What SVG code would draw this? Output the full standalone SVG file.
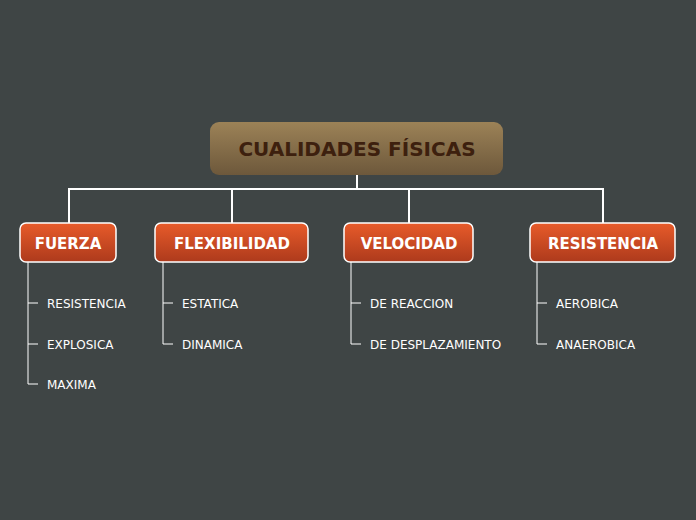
<svg xmlns="http://www.w3.org/2000/svg" width="696" height="520" viewBox="0 0 696 520">
<defs>
<linearGradient id="gr" x1="0" y1="0" x2="0" y2="1"><stop offset="0" stop-color="#9c8257"/><stop offset="1" stop-color="#6d583b"/></linearGradient>
<linearGradient id="go" x1="0" y1="0" x2="0" y2="1"><stop offset="0" stop-color="#e85b2a"/><stop offset="1" stop-color="#ad3a1c"/></linearGradient>
<style>
.c{fill:url(#go);stroke:#fff;stroke-width:1.5}
.ct{font-family:"DejaVu Sans",sans-serif;font-weight:bold;font-size:15px;fill:#fff;text-anchor:middle}
.l{font-family:"DejaVu Sans",sans-serif;font-size:12px;fill:#fff}
.ln{stroke:#fff;stroke-width:1;fill:none}
.cn{stroke:#fff;stroke-width:2;fill:none}
</style>
</defs>
<rect width="696" height="520" fill="#3f4545"/>
<g id="connectors">
<path class="cn" d="M357 175V189M69 223V189H603V223M232 189V223M409 189V223"/>
<path class="ln" d="M28 262V384H38M28 303H38M28 344H38M163 262V344H173M163 303H173M351 262V344H361M351 303H361M537 262V344H547M537 303H547"/>
</g>
<g id="root"><rect x="210" y="122" width="293" height="53" rx="9" fill="url(#gr)"/><text x="357" y="156" font-family="DejaVu Sans,sans-serif" font-weight="bold" font-size="20" fill="#3d200e" text-anchor="middle">CUALIDADES FÍSICAS</text></g>
<g id="fuerza"><rect class="c" x="20" y="223" width="96" height="39" rx="6"/><text class="ct" x="68" y="249">FUERZA</text></g>
<g id="flex"><rect class="c" x="155" y="223" width="153" height="39" rx="6"/><text class="ct" x="232" y="249">FLEXIBILIDAD</text></g>
<g id="vel"><rect class="c" x="344" y="223" width="129" height="39" rx="6"/><text class="ct" x="409" y="249">VELOCIDAD</text></g>
<g id="res"><rect class="c" x="530" y="223" width="145" height="39" rx="6"/><text class="ct" x="603" y="249">RESISTENCIA</text></g>
<g id="leaves">
<text class="l" x="47" y="308">RESISTENCIA</text><text class="l" x="47" y="349">EXPLOSICA</text><text class="l" x="47" y="389">MAXIMA</text>
<text class="l" x="182" y="308">ESTATICA</text><text class="l" x="182" y="349">DINAMICA</text>
<text class="l" x="370" y="308">DE REACCION</text><text class="l" x="370" y="349">DE DESPLAZAMIENTO</text>
<text class="l" x="556" y="308">AEROBICA</text><text class="l" x="556" y="349">ANAEROBICA</text>
</g>
</svg>
